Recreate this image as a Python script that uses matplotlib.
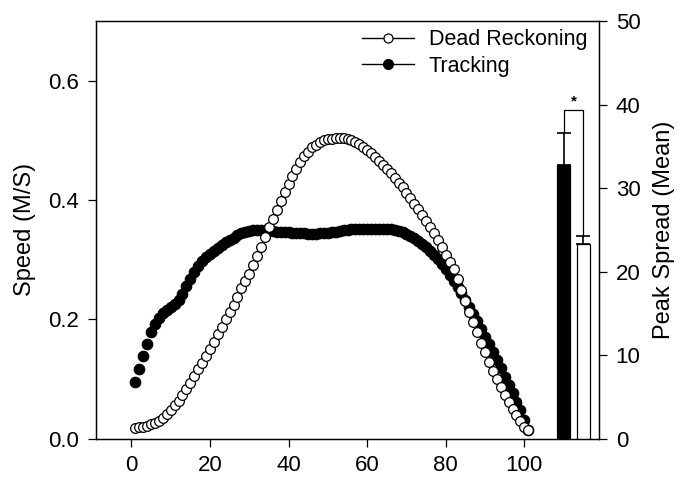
import numpy as np
import matplotlib
matplotlib.use("Agg")
import matplotlib.pyplot as plt
from matplotlib.lines import Line2D

plt.rcParams['font.family'] = ['Liberation Sans', 'DejaVu Sans']

# normalised time (1..101)
time = list(range(1, 102))

dead_reckoning = [
    0.018, 0.019, 0.020, 0.022, 0.024, 0.027, 0.030, 0.035, 0.041, 0.048,
    0.056, 0.064, 0.073, 0.083, 0.094, 0.105, 0.116, 0.127, 0.139, 0.150,
    0.162, 0.175, 0.188, 0.200, 0.212, 0.224, 0.238, 0.252, 0.265, 0.276,
    0.291, 0.306, 0.322, 0.338, 0.354, 0.369, 0.384, 0.399, 0.413, 0.427,
    0.440, 0.452, 0.463, 0.473, 0.481, 0.488, 0.493, 0.497, 0.500, 0.502,
    0.503, 0.504, 0.504, 0.504, 0.503, 0.501, 0.498, 0.494, 0.489, 0.484,
    0.478, 0.472, 0.466, 0.459, 0.452, 0.445, 0.437, 0.429, 0.421, 0.412,
    0.403, 0.394, 0.385, 0.375, 0.365, 0.355, 0.344, 0.333, 0.321, 0.308,
    0.296, 0.285, 0.268, 0.249, 0.230, 0.212, 0.195, 0.178, 0.161, 0.145,
    0.129, 0.114, 0.100, 0.087, 0.074, 0.062, 0.050, 0.039, 0.029, 0.020,
    0.014,
]

tracking = [
    0.095, 0.116, 0.138, 0.158, 0.178, 0.193, 0.203, 0.210, 0.215, 0.220,
    0.226, 0.233, 0.243, 0.256, 0.268, 0.280, 0.290, 0.298, 0.304, 0.309,
    0.314, 0.319, 0.324, 0.329, 0.333, 0.337, 0.341, 0.344, 0.346, 0.348,
    0.349, 0.349, 0.349, 0.349, 0.348, 0.348, 0.347, 0.347, 0.346, 0.346,
    0.345, 0.345, 0.344, 0.344, 0.343, 0.343, 0.343, 0.344, 0.344, 0.345,
    0.346, 0.347, 0.348, 0.349, 0.350, 0.351, 0.351, 0.352, 0.352, 0.352,
    0.352, 0.352, 0.352, 0.352, 0.352, 0.351, 0.350, 0.348, 0.346, 0.343,
    0.340, 0.336, 0.332, 0.327, 0.321, 0.315, 0.308, 0.301, 0.293, 0.284,
    0.275, 0.265, 0.255, 0.244, 0.233, 0.221, 0.209, 0.197, 0.184, 0.171,
    0.158, 0.145, 0.132, 0.118, 0.104, 0.090, 0.076, 0.062, 0.048, 0.032,
    0.015,
]

# peak spread bars (right axis)
bar_x = [110, 115]
bar_means = [32.8, 23.3]
bar_err_up = [3.8, 1.0]
bar_colors = ['black', 'white']

fig = plt.figure(figsize=(6.85, 4.79), dpi=100)
ax = fig.add_axes([0.1401, 0.0841, 0.7344, 0.8721])

ax.plot(time, tracking, linestyle='none', marker='o', ms=7.6,
        mfc='black', mec='black', mew=0.8)
ax.plot(time, dead_reckoning, linestyle='none', marker='o', ms=7.0,
        mfc='white', mec='black', mew=0.9)

ax.set_xlim(-9, 119)
ax.set_ylim(0, 0.7)
ax.set_xticks([0, 20, 40, 60, 80, 100])
ax.set_yticks([0.0, 0.2, 0.4, 0.6])
ax.set_yticklabels(['0.0', '0.2', '0.4', '0.6'])
ax.set_ylabel('Speed (M/S)', fontsize=17, labelpad=9)
ax.tick_params(direction='out', length=6, width=0.9, labelsize=16, pad=6)
ax.tick_params(axis='x', pad=6)

ax2 = ax.twinx()
ax2.bar(bar_x, bar_means, width=3.2, color=bar_colors, edgecolor='black',
        linewidth=0.9)
ax2.errorbar(bar_x, bar_means, yerr=[[0, 0], bar_err_up], fmt='none',
             ecolor='black', elinewidth=1.2, capsize=4.7, capthick=1.2)
top = 39.3
ax2.plot([bar_x[0], bar_x[0], bar_x[1], bar_x[1]],
         [bar_means[0] + bar_err_up[0], top, top, bar_means[1] + bar_err_up[1]],
         color='black', lw=0.9)
ax2.text(sum(bar_x) / 2, top + 0.2, '*', ha='center', va='bottom',
         fontsize=11, fontweight='bold')
ax2.set_ylim(0, 50)
ax2.set_yticks([0, 10, 20, 30, 40, 50])
ax2.set_ylabel('Peak Spread (Mean)', fontsize=17, labelpad=9)
ax2.tick_params(direction='out', length=6, width=0.9, labelsize=16, pad=6)

for a in (ax, ax2):
    for s in a.spines.values():
        s.set_linewidth(0.9)

handles = [
    Line2D([], [], color='black', lw=1.0, marker='o', ms=6.5, mfc='white',
           mec='black', mew=0.9),
    Line2D([], [], color='black', lw=1.0, marker='o', ms=7.0, mfc='black',
           mec='black'),
]
ax.legend(handles, ['Dead Reckoning', 'Tracking'], loc='upper right',
          bbox_to_anchor=(0.985, 0.99), frameon=False, fontsize=15.5,
          handlelength=2.4, handletextpad=0.7, labelspacing=0.25,
          borderaxespad=0, borderpad=0.2)

fig.savefig('out.png', dpi=100)
